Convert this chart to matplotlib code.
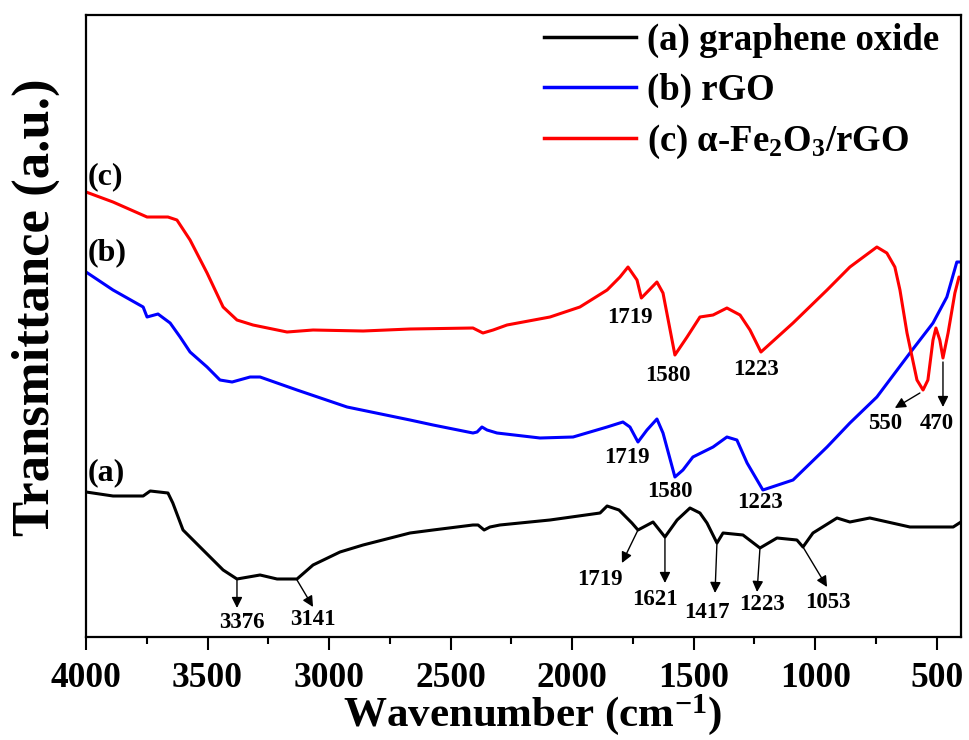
import numpy as np
import matplotlib
matplotlib.use('Agg')
import matplotlib.pyplot as plt

plt.rcParams['font.family'] = 'Liberation Serif'
plt.rcParams['font.weight'] = 'bold'
plt.rcParams['axes.labelweight'] = 'bold'
plt.rcParams['mathtext.fontset'] = 'custom'
plt.rcParams['mathtext.rm'] = 'Liberation Serif:bold'
plt.rcParams['mathtext.it'] = 'Liberation Serif:italic:bold'
plt.rcParams['mathtext.bf'] = 'Liberation Serif:bold'

# ---- data (transmittance in arbitrary units) ----
wn_go = [4000, 3889, 3765, 3736, 3663, 3643, 3601, 3531, 3436, 3379, 3284, 3214,
         3132, 3066, 2955, 2860, 2667, 2572, 2408, 2387, 2362, 2338, 2297, 2091,
         1885, 1856, 1807, 1754, 1729, 1667, 1618, 1568, 1515, 1474, 1445, 1404,
         1379, 1297, 1227, 1157, 1075, 1050, 1009, 910, 857, 775, 610, 432, 400]
t_go = [145, 141, 141, 146, 144, 134, 107, 90, 67, 58, 62, 58,
        58, 72, 85, 92, 104, 107, 112, 112, 107, 110, 112, 117,
        124, 131, 127, 114, 107, 115, 100, 117, 129, 124, 114, 94,
        104, 102, 89, 99, 97, 90, 104, 119, 115, 119, 110, 110, 115]

wn_rgo = [4000, 3889, 3765, 3749, 3704, 3654, 3613, 3572, 3502, 3449, 3399, 3325,
          3284, 3132, 2926, 2667, 2572, 2408, 2391, 2371, 2350, 2309, 2132, 1996,
          1856, 1791, 1762, 1729, 1692, 1651, 1626, 1577, 1544, 1503, 1420, 1363,
          1322, 1280, 1215, 1091, 951, 857, 746, 610, 515, 458, 417, 405]
t_rgo = [365, 347, 330, 320, 323, 314, 300, 285, 270, 257, 255, 260,
         260, 247, 230, 217, 212, 204, 205, 210, 207, 204, 199, 200,
         210, 215, 210, 195, 207, 218, 204, 160, 167, 180, 190, 200,
         197, 174, 147, 157, 190, 214, 240, 284, 314, 340, 375, 375]

wn_fe = [4000, 3889, 3749, 3663, 3626, 3572, 3502, 3436, 3379, 3313, 3173, 3066,
         2860, 2667, 2408, 2367, 2325, 2268, 2091, 1968, 1856, 1803, 1770, 1733,
         1715, 1671, 1651, 1626, 1577, 1527, 1474, 1420, 1363, 1309, 1268, 1223,
         1091, 951, 857, 746, 705, 672, 651, 622, 581, 556, 536, 515, 503, 487,
         474, 453, 425, 408, 400]
t_fe = [445, 435, 420, 420, 417, 397, 364, 330, 317, 312, 305, 307,
        306, 308, 309, 304, 307, 312, 320, 330, 347, 360, 370, 357,
        339, 350, 355, 344, 282, 300, 320, 322, 329, 322, 307, 285,
        314, 347, 370, 390, 384, 370, 347, 304, 257, 247, 257, 297, 309, 297,
        279, 304, 344, 360, 359]

series_labels = ['(a) graphene oxide', '(b) rGO', r'(c) α-Fe$_2$O$_3$/rGO']
series_colors = ['black', 'blue', 'red']

# peaks marked with arrows: label, arrow tail (wn, T), arrow head (wn, T), text position
arrow_peaks = [
    ('3376', (3379, 57), (3379, 29), (3358, 14)),
    ('3141', (3132, 57), (3066, 30), (3066, 17)),
    ('1719', (1729, 107), (1795, 74), (1885, 57)),
    ('1621', (1618, 100), (1618, 54), (1659, 37)),
    ('1417', (1404, 94), (1412, 44), (1445, 24)),
    ('1223', (1227, 89), (1239, 45), (1219, 32)),
    ('1053', (1050, 90), (951, 50), (947, 34)),
    ('550', (569, 244), (672, 229), (713, 214)),
    ('470', (474, 275), (474, 230), (499, 214)),
]
# peaks marked with text only
text_peaks = [
    ('1719', 1774, 180), ('1580', 1597, 145), ('1223', 1227, 134),
    ('1719', 1762, 320), ('1580', 1606, 262), ('1223', 1243, 268),
]
curve_tags = [('(a)', 164), ('(b)', 384), ('(c)', 460)]

# ---- plot ----
fig = plt.figure(figsize=(9.69, 7.4), dpi=100)
ax = fig.add_axes([0.0888, 0.1392, 0.9029, 0.8405])

for wn, t, lab, col in zip([wn_go, wn_rgo, wn_fe], [t_go, t_rgo, t_fe],
                           series_labels, series_colors):
    ax.plot(wn, t, color=col, lw=2.2, label=lab)

for lab, tail, head, pos in arrow_peaks:
    ax.annotate('', xy=head, xytext=tail,
                arrowprops=dict(arrowstyle='-|>', color='black', lw=1.0,
                                mutation_scale=16, shrinkA=0, shrinkB=0))
    ax.text(pos[0], pos[1], lab, fontsize=16.5, ha='center', va='center')

for lab, x, y in text_peaks:
    ax.text(x, y, lab, fontsize=16.5, ha='center', va='center')

for lab, y in curve_tags:
    ax.text(3992, y, lab, fontsize=23, ha='left', va='center')

ax.set_xlim(4000, 400)
ax.set_ylim(0, 622)
ax.set_yticks([])
ax.set_xticks(np.arange(4000, 400, -500))
ax.set_xticks(np.arange(4000, 400, -250), minor=True)
ax.tick_params(axis='x', which='major', direction='out', length=9, width=1.5,
               labelsize=25.5, pad=9)
ax.tick_params(axis='x', which='minor', direction='out', length=5, width=1.5)
for sp in ax.spines.values():
    sp.set_linewidth(1.6)

ax.set_xlabel('Wavenumber (cm$^{-1}$)', fontsize=31, fontweight='bold')
ax.xaxis.set_label_coords(0.51, -0.125)
ax.xaxis.label.set_va('center')
ax.set_ylabel('Transmittance (a.u.)', fontsize=38, fontweight='bold')
ax.yaxis.set_label_coords(-0.057, 0.53)
ax.yaxis.label.set_va('center')

leg = ax.legend(loc='upper right', frameon=False, fontsize=26.5,
                handlelength=2.5, handletextpad=0.3, labelspacing=0.4,
                borderaxespad=0.2, bbox_to_anchor=(1.0, 1.023))
for line in leg.get_lines():
    line.set_linewidth(2.5)

fig.savefig('out.png', dpi=100)
